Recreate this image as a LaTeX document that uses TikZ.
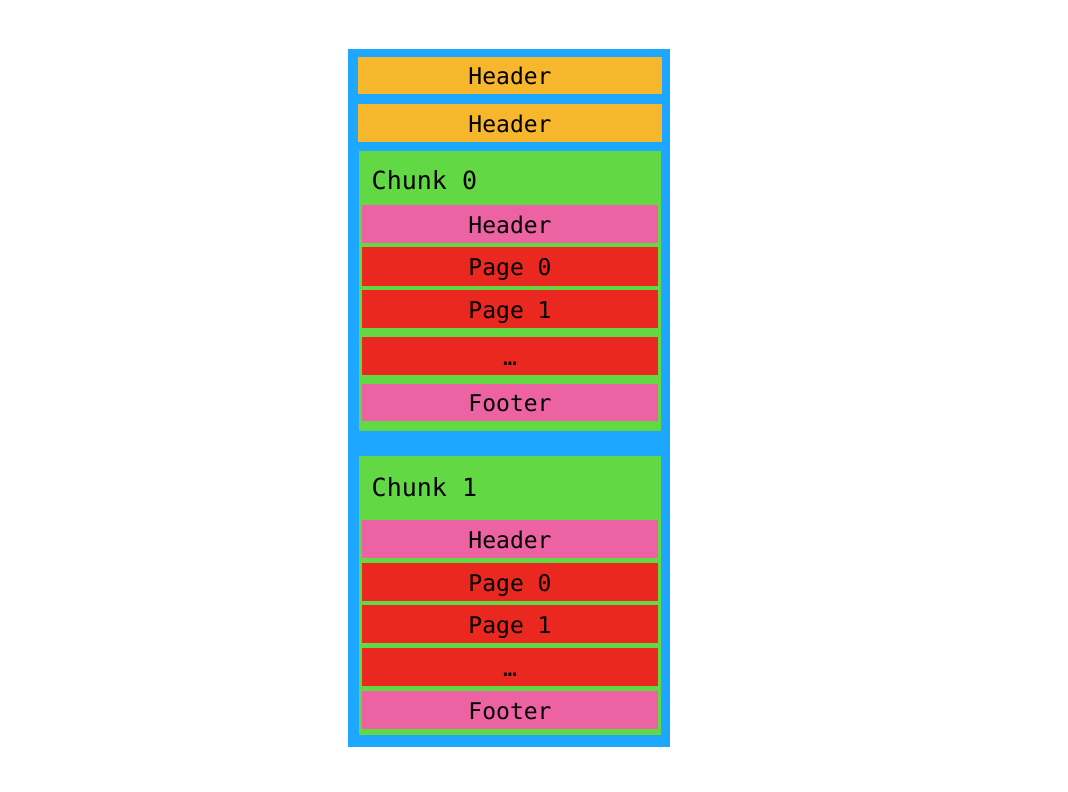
\documentclass[tikz,border=0pt]{standalone}
\usepackage{fontspec}
\setmonofont{DejaVu Sans Mono}
\usepackage{tikz}
\definecolor{cblue}{HTML}{1EA7FF}
\definecolor{corange}{HTML}{F7B72C}
\definecolor{cgreen}{HTML}{63D845}
\definecolor{cpink}{HTML}{EC62A3}
\definecolor{cred}{HTML}{EA2820}
\begin{document}
\begin{tikzpicture}[x=1pt, y=-1pt,
                    row/.style={inner sep=0pt, minimum width=296pt, minimum height=38pt,
                                text height=18.5pt, text depth=0pt,
                                font=\ttfamily\fontsize{23}{27}\selectfont},
                    chunk/.style={fill=cgreen, inner sep=0pt, minimum width=302pt}]
  \def\cx{510}    % centre line of the stack
  \useasboundingbox (0,0) rectangle (1068,792);
  % file
  \node[fill=cblue, inner sep=0pt, minimum width=322pt, minimum height=698pt] (file) at (509,398) {};
  \node[row, fill=corange, minimum width=304pt, minimum height=37pt] (hdA) at (\cx,75.5) {Header};
  \node[row, fill=corange, minimum width=304pt] (hdB) at (\cx,123) {Header};
  % chunk 0
  \node[chunk, minimum height=280pt] (ck0) at (\cx,291) {};
  \node[anchor=base west, inner sep=0pt, font=\ttfamily\fontsize{25}{30}\selectfont] (ck0lbl) at (371.5,189) {Chunk 0};
  \node[row, fill=cpink] (ck0hd) at (\cx,224) {Header};
  \node[row, fill=cred, minimum height=39pt] (ck0pA) at (\cx,266.5) {Page 0};
  \node[row, fill=cred] (ck0pB) at (\cx,309) {Page 1};
  \node[row, fill=cred] (ck0pC) at (\cx,356) {…};
  \node[row, fill=cpink, minimum height=37pt] (ck0ft) at (\cx,402.5) {Footer};
  % chunk 1
  \node[chunk, minimum height=279pt] (ck1) at (\cx,595.5) {};
  \node[anchor=base west, inner sep=0pt, font=\ttfamily\fontsize{25}{30}\selectfont] (ck1lbl) at (371.5,496) {Chunk 1};
  \node[row, fill=cpink] (ck1hd) at (\cx,539) {Header};
  \node[row, fill=cred] (ck1pA) at (\cx,582) {Page 0};
  \node[row, fill=cred] (ck1pB) at (\cx,624) {Page 1};
  \node[row, fill=cred] (ck1pC) at (\cx,667) {…};
  \node[row, fill=cpink] (ck1ft) at (\cx,710) {Footer};
\end{tikzpicture}
\end{document}
